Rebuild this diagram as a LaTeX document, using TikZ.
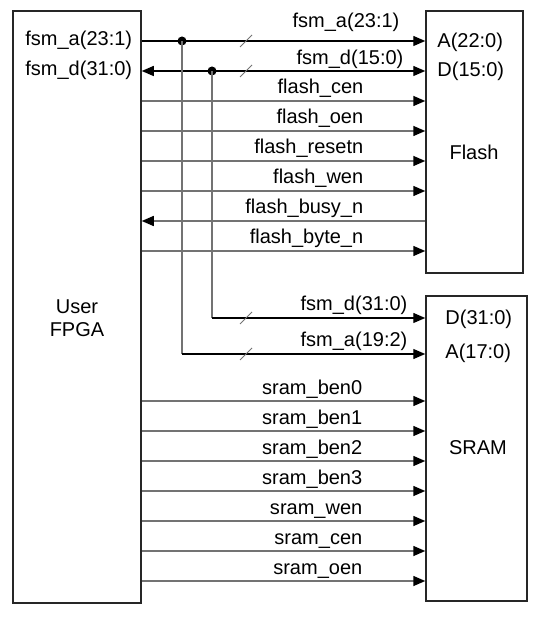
\documentclass[tikz,border=0pt]{standalone}
\usepackage{fontspec}
\setmainfont{Liberation Sans}
\usetikzlibrary{arrows.meta}
\usetikzlibrary{positioning}

\tikzset{
  blk/.style={draw=black!85, line width=0.75pt, inner sep=0pt},
  tipa/.tip={Triangle[length=6pt, width=5pt, color=black]},
  bus/.style={draw=black, line width=0.65pt},
  sig/.style={draw=black!55, line width=0.75pt},
  tap/.style={draw=black!55, line width=0.75pt},
  slash/.style={draw=black!55, line width=0.5pt},
  siglab/.style={anchor=base east, inner sep=0pt},
  pin/.style={anchor=base west, inner sep=0pt},
  dot/.style={circle, fill=black, inner sep=0pt, minimum size=4.5pt},
}

\begin{document}
\begin{tikzpicture}[x=0.5pt, y=-0.5pt, font=\fontsize{10}{11.5}\selectfont]
    \useasboundingbox (0,0) rectangle (543,619);

    % Blocks
    \node[blk, minimum width=64pt, minimum height=296pt] (fpga) at (77,307) {};
    \node[align=center, inner sep=0pt] (fpgalab) at (77,318.5) {User\\FPGA};

    \node[blk, minimum width=48.5pt, minimum height=131pt] (flash) at (474.5,142) {};
    \node[inner sep=0pt] (flashlab) at (474,152) {Flash};

    \node[blk, minimum width=50.5pt, minimum height=152.5pt] (sram) at (476.5,448.5) {};
    \node[inner sep=0pt] (sramlab) at (478,448) {SRAM};

    % Pin names
    \node[pin] (fa) at (25,46) {fsm\_a(23:1)};
    \node[pin] (fd) at (25,76) {fsm\_d(31:0)};
    \node[pin] (flasha) at (437,48) {A(22:0)};
    \node[pin] (flashd) at (437,77) {D(15:0)};
    \node[pin] (sramd) at (445,324) {D(31:0)};
    \node[pin] (srama) at (445,358) {A(17:0)};

    % Address and data buses
    \node[dot] (ja) at (182,41) {};
    \node[dot] (jd) at (212,71) {};
    \coordinate (jaend) at (ja |- 0,354);
    \coordinate (jdend) at (jd |- 0,318);

    \draw[bus, -tipa] (fpga.east |- 0,41) -- (flash.west |- 0,41)
        node[siglab] at (400,28) {fsm\_a(23:1)};
    \draw[bus, tipa-tipa] (fpga.east |- 0,71) -- (flash.west |- 0,71)
        node[siglab] at (404,65) {fsm\_d(15:0)};

    \draw[tap] (ja.center) -- (jaend);
    \draw[tap] (jd.center) -- (jdend);
    \draw[bus, -tipa] (jdend) -- (sram.west |- jdend)
        node[siglab] at (408,311) {fsm\_d(31:0)};
    \draw[bus, -tipa] (jaend) -- (sram.west |- jaend)
        node[siglab] at (408,346) {fsm\_a(19:2)};

    % Bus width marks
    \foreach \y in {41,71,318,354} {
        \draw[slash] (240,\y+6) -- (252,\y-6);
    }

    % Flash control
    \foreach \y/\lab in {101/flash\_cen, 131/flash\_oen, 161/flash\_resetn,
                         191/flash\_wen, 251/flash\_byte\_n} {
        \draw[sig, -tipa] (fpga.east |- 0,\y) -- (flash.west |- 0,\y)
            node[siglab] at (364,\y-7) {\lab};
    }
    \draw[sig, -tipa] (flash.west |- 0,221) -- (fpga.east |- 0,221)
        node[siglab] at (364,214) {flash\_busy\_n};

    % SRAM control
    \foreach \y/\lab in {401/sram\_ben0, 431/sram\_ben1, 461/sram\_ben2,
                         491/sram\_ben3, 521/sram\_wen, 551/sram\_cen, 581/sram\_oen} {
        \draw[sig, -tipa] (fpga.east |- 0,\y) -- (sram.west |- 0,\y)
            node[siglab] at (363,\y-7) {\lab};
    }
\end{tikzpicture}
\end{document}
